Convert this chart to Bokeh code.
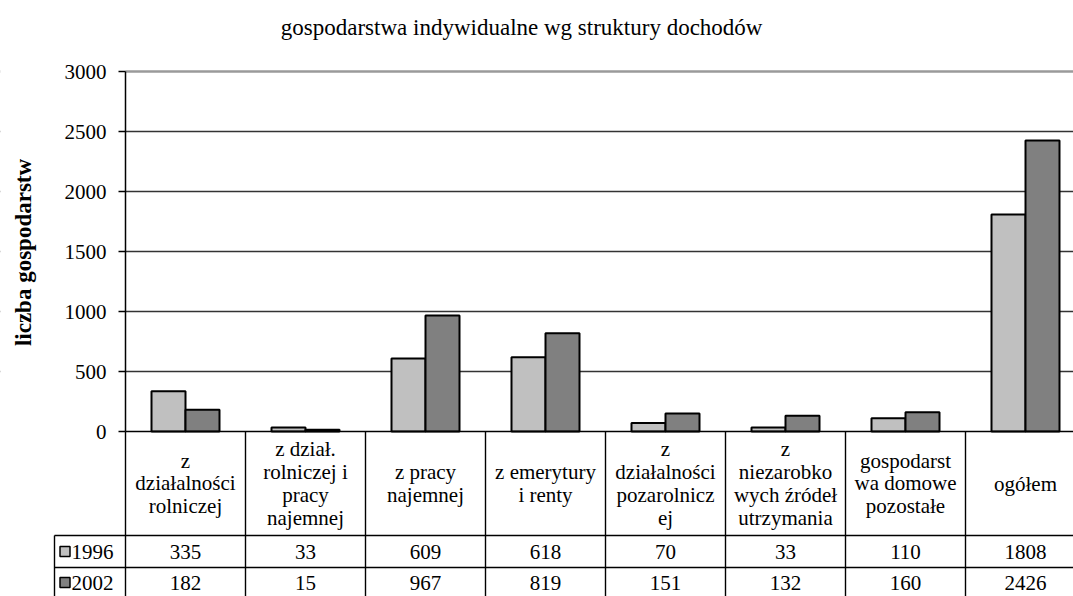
import numpy as np
from bokeh.plotting import figure
from bokeh.models import Range1d, LinearAxis, FixedTicker, Grid
from bokeh.core.properties import value
from bokeh.embed import file_html
from bokeh.resources import INLINE

# ---------------- data ----------------
title_text = "gospodarstwa indywidualne  wg struktury dochodów"
y_label = "liczba gospodarstw"
categories = [
    "z\ndziałalności\nrolniczej",
    "z dział.\nrolniczej i\npracy\nnajemnej",
    "z pracy\nnajemnej",
    "z emerytury\ni renty",
    "z\ndziałalności\npozarolnicz\nej",
    "z\nniezarobko\nwych źródeł\nutrzymania",
    "gospodarst\nwa domowe\npozostałe",
    "ogółem",
]
series_names = ["1996", "2002"]
values_1996 = [335, 33, 609, 618, 70, 33, 110, 1808]
values_2002 = [182, 15, 967, 819, 151, 132, 160, 2426]
y_ticks = [0, 500, 1000, 1500, 2000, 2500, 3000]

# ---------------- layout constants ----------------
W, H = 1073, 596
PX0 = 125.0      # px x of value axis
CW = 120.0       # px per category column
Y0 = 431.0       # px y of zero
KY = 0.12        # px per unit

x_start = -PX0 / CW
x_end = (W - PX0) / CW
y_end = Y0 / KY
y_start = -(H - Y0) / KY


def dx(px):
    return (px - PX0) / CW


def dy(py):
    return (Y0 - py) / KY


FONT_NAME = "Liberation Serif, Times New Roman, DejaVu Serif, serif"
FONT = value(FONT_NAME)
C1, C2 = "#c0c0c0", "#808080"

p = figure(width=W, height=H, x_range=Range1d(x_start, x_end), y_range=Range1d(y_start, y_end),
           x_axis_location=None, y_axis_location=None, toolbar_location=None,
           output_backend="svg", min_border=0, min_border_left=0, min_border_right=0,
           min_border_top=0, min_border_bottom=0, outline_line_color=None,
           background_fill_color="white", border_fill_color="white")
p.grid.visible = False

# grid lines
p.add_layout(Grid(dimension=1, ticker=FixedTicker(ticks=[t for t in y_ticks if 0 < t < 3000]),
                  grid_line_color="#333333", grid_line_width=1.3), "center")
p.add_layout(Grid(dimension=1, ticker=FixedTicker(ticks=[y_ticks[-1]]),
                  grid_line_color="#9a9a9a", grid_line_width=2.5), "center")
# white mask left of the value axis
p.quad(left=[x_start], right=[0], bottom=[1], top=[dy(-10)], fill_color="white", line_color=None)

n = len(categories)
centers = np.arange(n) + 0.5
bw = 34.0 / CW
p.vbar(x=centers - bw / 2, top=values_1996, bottom=0, width=bw, fill_color=C1,
       line_color="black", line_width=2)
p.vbar(x=centers + bw / 2, top=values_2002, bottom=0, width=bw, fill_color=C2,
       line_color="black", line_width=2)

# table geometry (px)
cat_bottom = 535.0
row_mid = 567.0
tab_bottom = 599.0
leg_left = 54.0

# horizontal table lines
p.segment(x0=[0, dx(leg_left), dx(leg_left), dx(leg_left)],
          x1=[x_end] * 4,
          y0=[0, dy(cat_bottom), dy(row_mid), dy(tab_bottom)],
          y1=[0, dy(cat_bottom), dy(row_mid), dy(tab_bottom)],
          line_color="black", line_width=1.4)
# vertical table lines
p.segment(x0=list(range(n + 1)), x1=list(range(n + 1)), y0=[0] * (n + 1),
          y1=[dy(tab_bottom)] * (n + 1), line_color="black", line_width=1.4)
p.segment(x0=[dx(leg_left)], x1=[dx(leg_left)], y0=[dy(cat_bottom)], y1=[dy(tab_bottom)],
          line_color="black", line_width=1.4)

# category labels
p.text(x=centers, y=[dy((Y0 + cat_bottom) / 2)] * n, text=categories, text_align="center",
       text_baseline="middle", text_font=FONT, text_font_size="21px", text_line_height=0.95,
       text_color="black")
# values
row_centers = [dy((cat_bottom + row_mid) / 2), dy((row_mid + tab_bottom) / 2 - 1)]
p.text(x=centers, y=[row_centers[0]] * n, text=[str(v) for v in values_1996],
       text_align="center", text_baseline="middle", text_font=FONT, text_font_size="21px",
       text_color="black")
p.text(x=centers, y=[row_centers[1]] * n, text=[str(v) for v in values_2002],
       text_align="center", text_baseline="middle", text_font=FONT, text_font_size="21px",
       text_color="black")
# legend keys
p.scatter(x=[dx(64.5)] * 2, y=row_centers, marker="square", size=10, fill_color=[C1, C2],
          line_color="black", line_width=1.5)
p.text(x=[dx(71)] * 2, y=row_centers, text=series_names, text_align="left",
       text_baseline="middle", text_font=FONT, text_font_size="21px", text_color="black")

# title and axis label
p.text(x=[dx(524)], y=[dy(27)], text=[title_text], text_align="center", text_baseline="middle",
       text_font=FONT, text_font_size="23px", text_color="black")
p.text(x=[dx(23)], y=[dy(252)], text=[y_label], angle=np.pi / 2, text_align="center",
       text_baseline="middle", text_font=FONT, text_font_size="23px", text_font_style="bold",
       text_color="black")

# value axis
yaxis = LinearAxis(fixed_location=0, ticker=FixedTicker(ticks=y_ticks), bounds=(0, 3000),
                   major_tick_out=7, major_tick_in=0, minor_tick_out=0, minor_tick_in=0,
                   axis_line_color="black", axis_line_width=1.5, major_tick_line_color="black",
                   major_tick_line_width=1.3, major_label_standoff=12,
                   major_label_text_font=FONT_NAME, major_label_text_font_size="21px",
                   major_label_text_color="black")
p.add_layout(yaxis, "left")

open("out.html", "w").write(file_html(p, INLINE))
